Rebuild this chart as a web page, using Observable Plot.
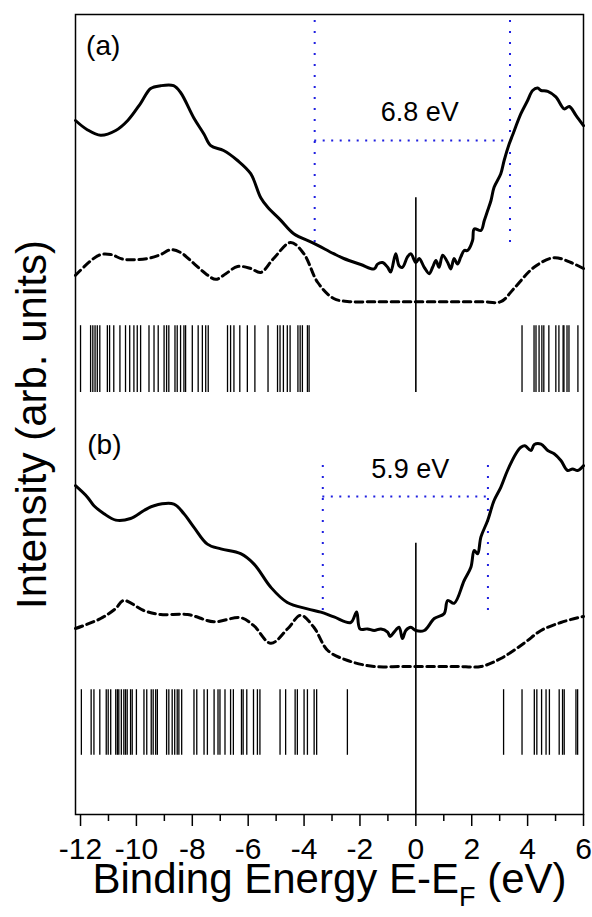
<!DOCTYPE html>
<html><head><meta charset="utf-8">
<script src="https://cdn.jsdelivr.net/npm/d3@7"></script>
<script src="https://cdn.jsdelivr.net/npm/@observablehq/plot@0.6"></script>
<style>
body{margin:0;background:#fff;}
#chart svg{display:block;}
</style></head><body><div id="chart"></div>
<script>
// ---- data (binding energy in eV, intensity in arbitrary units) ----
const majorTicks = [-12,-10,-8,-6,-4,-2,0,2,4,6];
const minorTicks = [-11,-9,-7,-5,-3,-1,1,3,5];
const xDomain = [-12.18, 6];
const yDomain = [0, 100];

// panel (a): measured spectrum
const specA = [[-12.18,86.75],[-11.76,85.6],[-11.28,84.9],[-10.74,85.5],[-10.31,86.75],[-9.85,88.9],[-9.49,90.75],[-9.13,91.1],[-8.67,91.1],[-8.42,90.25],[-7.95,87.1],[-7.59,85.1],[-7.34,83.6],[-6.88,83.0],[-6.38,81.75],[-5.91,80.1],[-5.55,77.1],[-5.30,75.9],[-4.84,74.3],[-4.37,72.6],[-3.65,71.4],[-2.94,70.1],[-2.58,69.5],[-1.97,68.75],[-1.49,68.2],[-1.37,68.8],[-1.19,69.0],[-1.01,68.4],[-0.90,67.8],[-0.72,70.1],[-0.60,68.6],[-0.48,68.4],[-0.30,69.7],[-0.18,70.1],[0,69.0],[0.12,69.5],[0.30,68.4],[0.48,67.6],[0.60,68.4],[0.72,69.25],[0.83,68.4],[0.96,69.9],[1.14,69.0],[1.25,68.2],[1.37,69.5],[1.49,68.8],[1.61,69.7],[1.73,70.5],[1.85,70.5],[2.03,71.75],[2.09,73.2],[2.33,73.0],[2.45,74.25],[2.57,75.5],[2.69,76.75],[2.80,78.4],[3.04,80.1],[3.16,81.75],[3.34,83.8],[3.46,84.9],[3.76,87.6],[4.0,89.25],[4.18,90.5],[4.36,90.8],[4.48,90.5],[4.72,90.4],[5.01,89.7],[5.31,88.2],[5.49,88.5],[5.73,87.4],[6.0,86.1]];
// panel (a): calculated DOS (dashed)
const calcA = [[-12.18,67.4],[-11.35,69.9],[-10.92,70.0],[-10.46,69.4],[-9.60,69.5],[-9.13,70.0],[-8.77,70.6],[-8.42,70.25],[-7.95,68.9],[-7.52,67.6],[-7.16,66.9],[-6.80,67.6],[-6.38,68.5],[-5.91,68.25],[-5.55,67.75],[-5.09,69.5],[-4.48,71.5],[-4.01,70.1],[-3.51,66.5],[-2.94,64.5],[-2.33,64.1],[-1.5,64.1],[-0.5,64.1],[0.5,64.1],[1.5,64.1],[2.4,64.1],[3.04,64.1],[3.51,65.75],[4.23,68.4],[4.94,69.6],[5.55,69.0],[6.0,68.25]];
// panel (a): eigenvalue sticks
const sticksA = [-12.0,-11.64,-11.56,-11.48,-11.40,-11.31,-11.04,-10.96,-10.81,-10.59,-10.39,-10.24,-10.09,-9.97,-9.85,-9.55,-9.37,-9.22,-9.01,-8.92,-8.84,-8.62,-8.54,-8.42,-8.30,-8.24,-8.0,-7.79,-7.64,-7.52,-7.43,-6.74,-6.63,-6.51,-6.30,-6.03,-5.76,-5.29,-4.95,-4.86,-4.74,-4.60,-4.50,-4.22,-4.14,-4.06,-3.88,-3.82,3.80,4.23,4.30,4.41,4.51,4.58,4.76,5.01,5.12,5.27,5.30,5.41,5.48,5.80];
const sticksABand = [52.75, 61.1];
const fermiA = [52.75, 77.1];
const gapA = {lo: -3.62, hi: 3.37, bottom: 71.5, top: 100, level: 84.25, label: "6.8 eV", lx: 0.14, ly: 86.75};

// panel (b)
const specB = [[-12.18,41.1],[-11.76,39.7],[-11.52,38.6],[-11.16,37.6],[-10.74,36.8],[-10.21,37.0],[-9.73,38.0],[-9.37,38.6],[-8.66,38.8],[-8.30,37.6],[-7.94,35.9],[-7.46,33.8],[-6.98,33.2],[-6.27,32.6],[-5.79,31.3],[-5.19,28.4],[-4.60,26.5],[-3.88,25.7],[-3.40,25.3],[-2.93,24.7],[-2.33,24.0],[-2.12,25.3],[-2.0,23.2],[-1.73,23.2],[-1.49,23.0],[-1.25,23.2],[-1.01,22.8],[-0.92,22.25],[-0.78,22.8],[-0.60,23.4],[-0.48,22.0],[-0.36,23.0],[-0.18,23.4],[0,23.0],[0.30,23.0],[0.66,24.5],[1.01,25.1],[1.14,26.75],[1.37,26.4],[1.73,29.25],[1.97,30.9],[2.09,33.0],[2.21,32.6],[2.33,34.7],[2.57,36.75],[2.80,39.25],[3.04,40.9],[3.28,43.0],[3.58,45.1],[3.76,45.9],[3.90,46.1],[4.12,45.5],[4.24,46.25],[4.48,46.3],[4.72,45.5],[4.95,45.1],[5.19,44.25],[5.43,43.0],[5.61,43.2],[5.79,43.0],[6.0,43.6]];
const calcB = [[-12.18,23.25],[-11.28,24.5],[-10.74,25.75],[-10.46,26.75],[-9.74,25.5],[-9.13,25.0],[-8.17,25.0],[-7.23,24.1],[-6.27,24.6],[-5.80,23.6],[-5.19,21.4],[-4.58,23.25],[-4.12,24.9],[-3.65,23.4],[-3.15,20.5],[-2.44,19.25],[-1.50,18.5],[-0.5,18.5],[0.5,18.5],[1.5,18.5],[2.33,18.5],[3.04,19.5],[3.87,21.4],[4.48,23.0],[5.19,24.0],[5.80,24.6],[6.0,24.75]];
const sticksB = [-11.97,-11.62,-11.52,-11.31,-11.08,-11.01,-10.92,-10.74,-10.68,-10.63,-10.54,-10.45,-10.39,-10.33,-10.21,-10.15,-10.0,-9.73,-9.63,-9.47,-9.40,-9.31,-9.25,-8.92,-8.84,-8.72,-8.63,-8.54,-8.48,-8.38,-7.94,-7.84,-7.58,-7.46,-7.22,-7.08,-7.01,-6.83,-6.63,-6.53,-6.24,-6.18,-6.05,-5.81,-5.67,-5.58,-4.86,-4.66,-4.32,-4.24,-4.0,-3.88,-3.64,-3.55,-2.45,3.14,3.80,4.24,4.33,4.50,4.66,4.78,5.13,5.25,5.31,5.73,5.79];
const sticksBBand = [7.4, 15.6];
const fermiB = [0, 33.9];
const gapB = {lo: -3.33, hi: 2.58, bottom: 25.5, top: 43.9, level: 39.75, label: "5.9 eV", lx: -0.2, ly: 42.1};

const panelLabels = [{label: "(a)", x: -11.8, y: 94.9}, {label: "(b)", x: -11.76, y: 45.1}];
const xLabel = "Binding Energy E-EF (eV)";
const yLabel = "Intensity (arb. units)";

// ---- chart ----
const blue = "#1f1fe0";
function gapMarks(g) {
  return [
    Plot.ruleX([g.lo, g.hi], {y1: g.bottom, y2: g.top, stroke: blue, strokeWidth: 2, strokeDasharray: "2,9"}),
    Plot.ruleY([g.level], {x1: g.lo, x2: g.hi, stroke: blue, strokeWidth: 2, strokeDasharray: "2,6.5"}),
    Plot.text([g], {x: "lx", y: "ly", text: "label", textAnchor: "middle", lineAnchor: "bottom", fontSize: 27, fill: "black"})
  ];
}

const chart = Plot.plot({
  width: 592, height: 917,
  marginLeft: 75, marginRight: 9, marginTop: 14, marginBottom: 103,
  x: {domain: xDomain},
  y: {domain: yDomain, axis: null},
  style: {fontFamily: "'Liberation Sans', Arial, sans-serif", color: "black", background: "white"},
  marks: [
    Plot.axisX(majorTicks, {anchor: "bottom", tickSize: 12, tickPadding: 11, fontSize: 30, strokeWidth: 1.5, tickFormat: d => String(d), label: null}),
    Plot.axisX(minorTicks, {anchor: "bottom", tickSize: 7, strokeWidth: 1.5, fill: "none", label: null}),
    ...gapMarks(gapA),
    ...gapMarks(gapB),
    Plot.ruleX(sticksA, {y1: sticksABand[0], y2: sticksABand[1], stroke: "black", strokeWidth: 1.3}),
    Plot.ruleX(sticksB, {y1: sticksBBand[0], y2: sticksBBand[1], stroke: "black", strokeWidth: 1.3}),
    Plot.ruleX([0], {y1: fermiA[0], y2: fermiA[1], stroke: "black", strokeWidth: 1.6}),
    Plot.ruleX([0], {y1: fermiB[0], y2: fermiB[1], stroke: "black", strokeWidth: 1.6}),
    Plot.line(calcA, {x: d => d[0], y: d => d[1], curve: "catmull-rom", stroke: "black", strokeWidth: 3, strokeDasharray: "7.5,4.5"}),
    Plot.line(calcB, {x: d => d[0], y: d => d[1], curve: "catmull-rom", stroke: "black", strokeWidth: 3, strokeDasharray: "7.5,4.5"}),
    Plot.line(specA, {x: d => d[0], y: d => d[1], curve: "catmull-rom", stroke: "black", strokeWidth: 3, strokeLinejoin: "round"}),
    Plot.line(specB, {x: d => d[0], y: d => d[1], curve: "catmull-rom", stroke: "black", strokeWidth: 3, strokeLinejoin: "round"}),
    Plot.text(panelLabels, {x: "x", y: "y", text: "label", textAnchor: "start", lineAnchor: "bottom", fontSize: 28, fill: "black"}),
    Plot.text([xLabel], {frameAnchor: "bottom", dy: 78, lineAnchor: "bottom", fontSize: 42, fill: "black"}),
    Plot.text([yLabel], {frameAnchor: "left", rotate: -90, dx: -30, dy: 10, lineAnchor: "bottom", textAnchor: "middle", fontSize: 42, fill: "black"}),
    Plot.frame({stroke: "black", strokeWidth: 1.5})
  ]
});

// subscript F in the x label
const ns = "http://www.w3.org/2000/svg";
for (const t of chart.querySelectorAll("text")) {
  if (t.textContent === xLabel) {
    t.textContent = "";
    const a = document.createElementNS(ns, "tspan"); a.textContent = "Binding Energy E-E"; t.appendChild(a);
    const b = document.createElementNS(ns, "tspan"); b.textContent = "F"; b.setAttribute("font-size", "27"); b.setAttribute("dy", "13"); t.appendChild(b);
    const c = document.createElementNS(ns, "tspan"); c.textContent = " (eV)"; c.setAttribute("dy", "-13"); t.appendChild(c);
  }
}
document.getElementById("chart").appendChild(chart);
</script></body></html>
